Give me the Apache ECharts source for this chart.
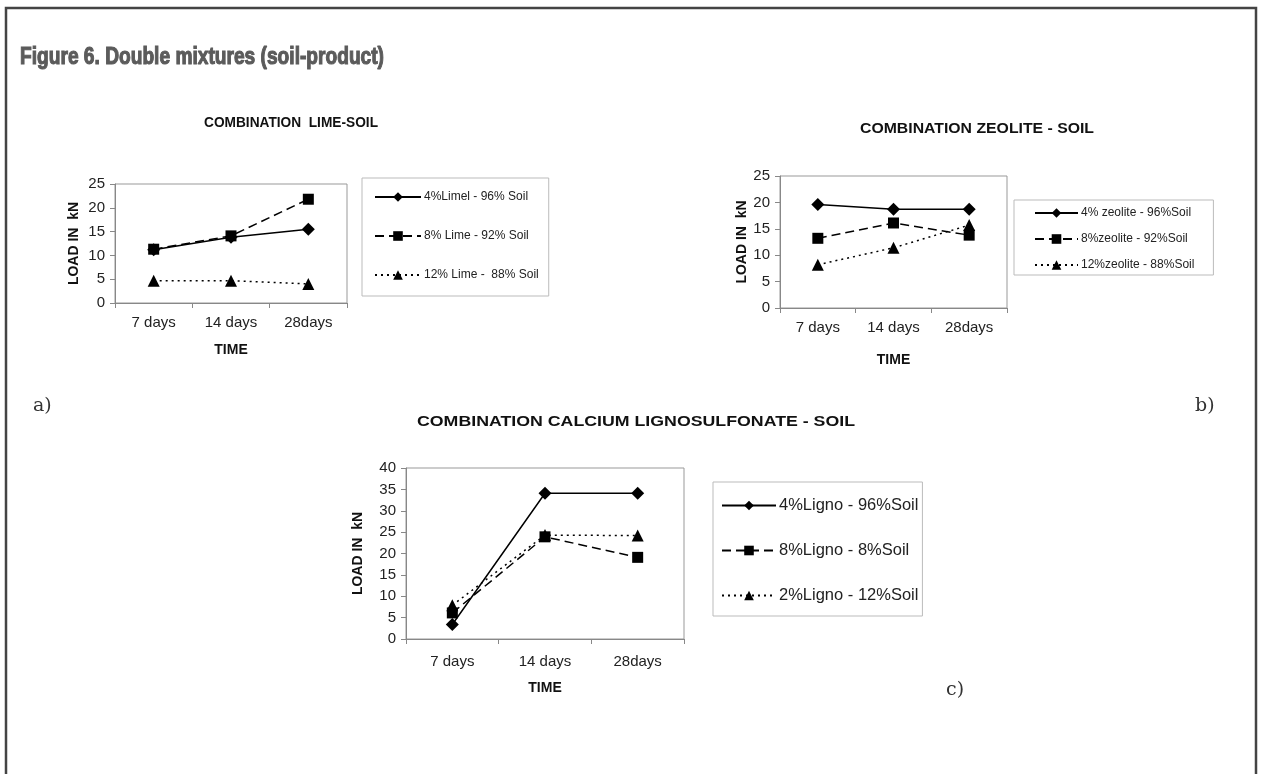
<!DOCTYPE html>
<html>
<head>
<meta charset="utf-8">
<script src="https://cdn.jsdelivr.net/npm/echarts@6/dist/echarts.min.js"></script>
<style>
html,body{margin:0;padding:0;background:#fff;}
#chart{width:1262px;height:774px;}
</style>
</head>
<body>
<div id="chart"></div>
<script>
// ---- data ----
const categories = ['7 days', '14 days', '28days'];

const limeNames = ['4%Limel - 96% Soil', '8% Lime - 92% Soil', '12% Lime -  88% Soil'];
const lime4 = [11.2, 13.8, 15.5];
const lime8 = [11.3, 14.1, 21.8];
const lime12 = [4.7, 4.7, 4.0];

const zeoNames = ['4% zeolite - 96%Soil', '8%zeolite - 92%Soil', '12%zeolite - 88%Soil'];
const zeo4 = [19.6, 18.7, 18.7];
const zeo8 = [13.2, 16.1, 13.8];
const zeo12 = [8.2, 11.4, 15.7];

const lignoNames = ['4%Ligno - 96%Soil', '8%Ligno - 8%Soil', '2%Ligno - 12%Soil'];
const ligno4 = [3.4, 34.1, 34.1];
const ligno8 = [6.1, 23.9, 19.1];
const ligno12 = [7.9, 24.3, 24.2];

const yTicksAB = { min: 0, max: 25, interval: 5 };
const yTicksC = { min: 0, max: 40, interval: 5 };

// ---- chart ----
const chart = echarts.init(document.getElementById('chart'), null, { renderer: 'canvas' });
const FONT = 'Liberation Sans, Arial, sans-serif';
const styles = [
  { symbol: 'diamond', size: 13, type: 'solid' },
  { symbol: 'rect', size: 11, type: [9, 5] },
  { symbol: 'triangle', size: 12, type: [2, 4] }
];

const measureCtx = document.createElement('canvas').getContext('2d');
function fitScale(text, font, target) {
  measureCtx.font = font;
  return target / measureCtx.measureText(text).width;
}

function mkSeries(names, arrs, gi) {
  return arrs.map((d, i) => ({
    type: 'line', name: names[i], data: d,
    xAxisIndex: gi, yAxisIndex: gi,
    symbol: styles[i].symbol, symbolSize: styles[i].size,
    lineStyle: { color: '#000', width: 1.5, type: styles[i].type },
    itemStyle: { color: '#000' },
    showAllSymbol: true, z: 3 - i
  }));
}

function mkX(gi, gap, fs, margin) {
  return {
    type: 'category', gridIndex: gi, data: categories,
    boundaryGap: true,
    name: 'TIME', nameLocation: 'middle', nameGap: gap,
    nameTextStyle: { fontFamily: FONT, fontWeight: 'bold', fontSize: 14, color: '#111' },
    axisLine: { show: true, lineStyle: { color: '#888', width: 1 } },
    axisTick: { show: true, length: 5, lineStyle: { color: '#888' } },
    axisLabel: { fontFamily: FONT, fontSize: fs, color: '#222', margin: margin },
    splitLine: { show: false }
  };
}
function mkY(gi, t, gap, fs) {
  return {
    type: 'value', gridIndex: gi, min: t.min, max: t.max, interval: t.interval,
    name: 'LOAD IN  kN', nameLocation: 'middle', nameRotate: 90, nameGap: gap,
    nameTextStyle: { fontFamily: FONT, fontWeight: 'bold', fontSize: 14, color: '#111' },
    axisLine: { show: true, lineStyle: { color: '#888', width: 1 } },
    axisTick: { show: true, length: 5, inside: false, lineStyle: { color: '#888' } },
    axisLabel: { fontFamily: FONT, fontSize: fs, color: '#222', margin: 10 },
    splitLine: { show: false }
  };
}
function mkLegend(names, left, top, itemW, gap, fs, pad) {
  return {
    data: names, orient: 'vertical', left: left, top: top,
    itemWidth: itemW, itemHeight: 12, itemGap: gap,
    padding: pad, borderColor: '#bbb', borderWidth: 1,
    textStyle: { fontFamily: FONT, fontSize: fs, color: '#222', padding: [0, 0, 0, -2] },
    selectedMode: false
  };
}

const figTitle = 'Figure 6. Double mixtures (soil-product)';
const figFont = 'bold 23px "Liberation Sans", Arial, sans-serif';
const tA = 'COMBINATION  LIME-SOIL', tB = 'COMBINATION ZEOLITE - SOIL', tC = 'COMBINATION CALCIUM LIGNOSULFONATE - SOIL';
const tFont = 'bold 14px ' + FONT;

function centerText(txt, cx, cy, target) {
  const s = fitScale(txt, tFont, target);
  return { type: 'text', x: cx, y: cy, scaleX: s, originX: 0,
    style: { text: txt, textAlign: 'center', textVerticalAlign: 'middle', font: tFont, fill: '#111' } };
}

const option = {
  animation: false,
  grid: [
    { left: 115, top: 184, width: 232, height: 119, show: true, borderColor: '#999', borderWidth: 1 },
    { left: 780, top: 176, width: 227, height: 132, show: true, borderColor: '#999', borderWidth: 1 },
    { left: 406, top: 468, width: 278, height: 171, show: true, borderColor: '#999', borderWidth: 1 }
  ],
  xAxis: [mkX(0, 40, 15, 12), mkX(1, 45, 15, 12), mkX(2, 42, 15, 15)],
  yAxis: [mkY(0, yTicksAB, 34, 15), mkY(1, yTicksAB, 31, 15), mkY(2, yTicksC, 41, 15)],
  legend: [
    mkLegend(limeNames, 362, 178, 46, 27, 12, [13, 10, 15, 12]),
    mkLegend(zeoNames, 1014, 200, 43, 14, 12, [7, 19, 4, 20]),
    mkLegend(lignoNames, 713, 482, 54, 28, 16.5, [15, 4, 12, 8])
  ],
  series: [].concat(
    mkSeries(limeNames, [lime4, lime8, lime12], 0),
    mkSeries(zeoNames, [zeo4, zeo8, zeo12], 1),
    mkSeries(lignoNames, [ligno4, ligno8, ligno12], 2)
  ),
  graphic: [
    { type: 'rect', shape: { x: 6, y: 8, width: 1250, height: 800 },
      style: { fill: 'none', stroke: '#444', lineWidth: 2.5 }, silent: true },
    { type: 'text', x: 20, y: 46, scaleX: fitScale(figTitle, figFont, 364),
      style: { text: figTitle, font: figFont, fill: '#5b5b5b', stroke: '#5b5b5b', lineWidth: 1.1 } },
    centerText(tA, 291, 123, 174),
    centerText(tB, 977, 129, 234),
    centerText(tC, 636, 422, 438),
    { type: 'text', x: 33, y: 397, style: { text: 'a)', font: '19px "DejaVu Serif", "Liberation Serif", serif', fill: '#333' } },
    { type: 'text', x: 1195, y: 397, style: { text: 'b)', font: '19px "DejaVu Serif", "Liberation Serif", serif', fill: '#333' } },
    { type: 'text', x: 946, y: 681, style: { text: 'c)', font: '19px "DejaVu Serif", "Liberation Serif", serif', fill: '#333' } }
  ]
};
chart.setOption(option);
</script>
</body>
</html>
